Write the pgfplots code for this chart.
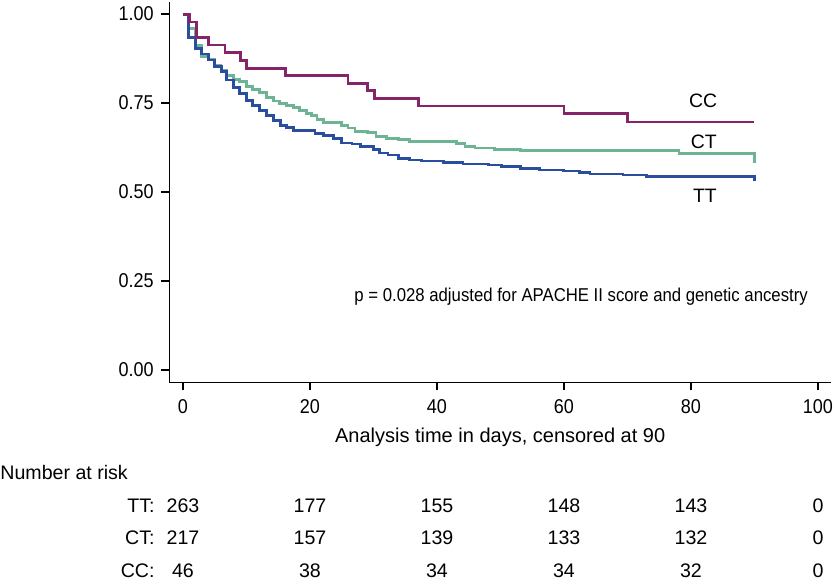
\documentclass[border=0pt]{standalone}
\usepackage{pgfplots}
\pgfplotsset{compat=1.18}
\usepackage{fontspec}
\setmainfont{Liberation Sans}
\definecolor{ccpurple}{RGB}{135,35,105}
\definecolor{ctgreen}{RGB}{108,180,148}
\definecolor{ttblue}{RGB}{42,78,158}
\tikzset{risk/.style={font=\fontsize{9.8}{11}\selectfont, inner sep=0pt}}
\begin{document}
\begin{tikzpicture}[x=1pt,y=1pt]
\path[use as bounding box] (0,0) rectangle (418.5,289.5);
\begin{axis}[
  at={(84.65pt,98.35pt)}, anchor=south west,
  scale only axis, width=330.85pt, height=190.15pt,
  xmin=-2.157, xmax=102.05, ymin=-0.0345, ymax=1.034,
  clip=false,
  axis x line*=bottom, axis y line*=left,
  axis line style={line width=0.75pt,-},
  tick align=outside,
  major tick style={line width=0.75pt, black},
  major tick length=4pt,
  xtick={0,20,40,60,80,100},
  ytick={0,0.25,0.5,0.75,1},
  /pgf/number format/assume math mode=true,
  tick label style={font=\fontsize{10}{11}\selectfont, xscale=0.9},
  yticklabel style={/pgf/number format/fixed, /pgf/number format/fixed zerofill, /pgf/number format/precision=2, anchor=east, inner sep=0pt, xshift=-4pt},
  xticklabel style={anchor=north, inner sep=0pt, yshift=-4.5pt},
  xlabel={Analysis time in days, censored at 90},
  xlabel style={at={(axis description cs:0.5,-0.144)}, anchor=center, font=\fontsize{10}{12}\selectfont, inner sep=0pt},
]
\addplot[const plot, color=ctgreen, line width=1.4pt] coordinates {
(0,1.000) (0.9,0.960) (1.9,0.912) (2.9,0.881) (4.0,0.872) (5.0,0.857) (6.0,0.843)
(6.9,0.828) (7.9,0.817) (8.9,0.811) (10.0,0.796) (11.0,0.789) (12.0,0.779)
(13.1,0.765) (14.2,0.756) (15.2,0.748) (16.3,0.743) (17.4,0.737) (18.4,0.730)
(19.4,0.721) (20.3,0.714) (21.1,0.704) (22.1,0.695) (25.0,0.686) (26.0,0.680)
(27.1,0.671) (29.1,0.667) (30.4,0.657) (32.1,0.651) (33.9,0.647) (35.7,0.641)
(43.1,0.636) (44.4,0.629) (46.0,0.624) (49.1,0.620) (53.1,0.616) (78.1,0.609)
(90.0,0.582)
};
\addplot[const plot, color=ttblue, line width=1.4pt] coordinates {
(0,1.000) (0.9,0.935) (2.0,0.904) (2.9,0.888) (4.0,0.871) (5.0,0.852) (6.1,0.838)
(6.9,0.815) (7.9,0.794) (8.9,0.777) (10.0,0.758) (11.0,0.744) (12.1,0.730)
(13.2,0.716) (14.2,0.702) (15.3,0.688) (16.3,0.681) (17.4,0.674) (20.8,0.665)
(22.1,0.658) (23.7,0.650) (25.0,0.638) (26.6,0.635) (27.9,0.629) (30.0,0.620)
(31.0,0.610) (32.3,0.604) (33.9,0.595) (35.7,0.590) (37.6,0.587) (41.0,0.583)
(44.1,0.579) (48.1,0.576) (50.2,0.571) (53.1,0.567) (56.2,0.562) (59.9,0.559)
(62.5,0.554) (64.1,0.551) (69.3,0.548) (73.0,0.543) (90.0,0.532)
};
\addplot[const plot, color=ccpurple, line width=1.4pt] coordinates {
(0,1.000) (1.0,0.978) (2.1,0.935) (4.0,0.913) (6.6,0.891) (9.1,0.870) (10.0,0.848)
(16.1,0.828) (26.0,0.806) (29.0,0.785) (30.1,0.762) (37.1,0.742) (60.0,0.720)
(70.0,0.697) (90.0,0.697)
};
\node[font=\fontsize{9.7}{11}\selectfont] at (axis cs:81.9,0.756) {CC};
\node[font=\fontsize{9.7}{11}\selectfont] at (axis cs:82.0,0.640) {CT};
\node[font=\fontsize{9.7}{11}\selectfont] at (axis cs:82.2,0.490) {TT};
\node[font=\fontsize{9.3}{11}\selectfont, xscale=0.9] at (axis cs:62.7,0.205) {p = 0.028 adjusted for APACHE II score and genetic ancestry};
\node[risk, anchor=west] at (axis cs:-28.82,-0.287) {Number at risk};
\node[risk, anchor=east] at (axis cs:-4.41,-0.382) {TT:};
\node[risk, anchor=east] at (axis cs:-4.41,-0.472) {CT:};
\node[risk, anchor=east] at (axis cs:-4.41,-0.565) {CC:};
\node[risk] at (axis cs:0,-0.382) {263};
\node[risk] at (axis cs:0,-0.472) {217};
\node[risk] at (axis cs:0,-0.565) {46};
\node[risk] at (axis cs:20,-0.382) {177};
\node[risk] at (axis cs:20,-0.472) {157};
\node[risk] at (axis cs:20,-0.565) {38};
\node[risk] at (axis cs:40,-0.382) {155};
\node[risk] at (axis cs:40,-0.472) {139};
\node[risk] at (axis cs:40,-0.565) {34};
\node[risk] at (axis cs:60,-0.382) {148};
\node[risk] at (axis cs:60,-0.472) {133};
\node[risk] at (axis cs:60,-0.565) {34};
\node[risk] at (axis cs:80,-0.382) {143};
\node[risk] at (axis cs:80,-0.472) {132};
\node[risk] at (axis cs:80,-0.565) {32};
\node[risk] at (axis cs:100,-0.382) {0};
\node[risk] at (axis cs:100,-0.472) {0};
\node[risk] at (axis cs:100,-0.565) {0};
\end{axis}
\end{tikzpicture}
\end{document}
